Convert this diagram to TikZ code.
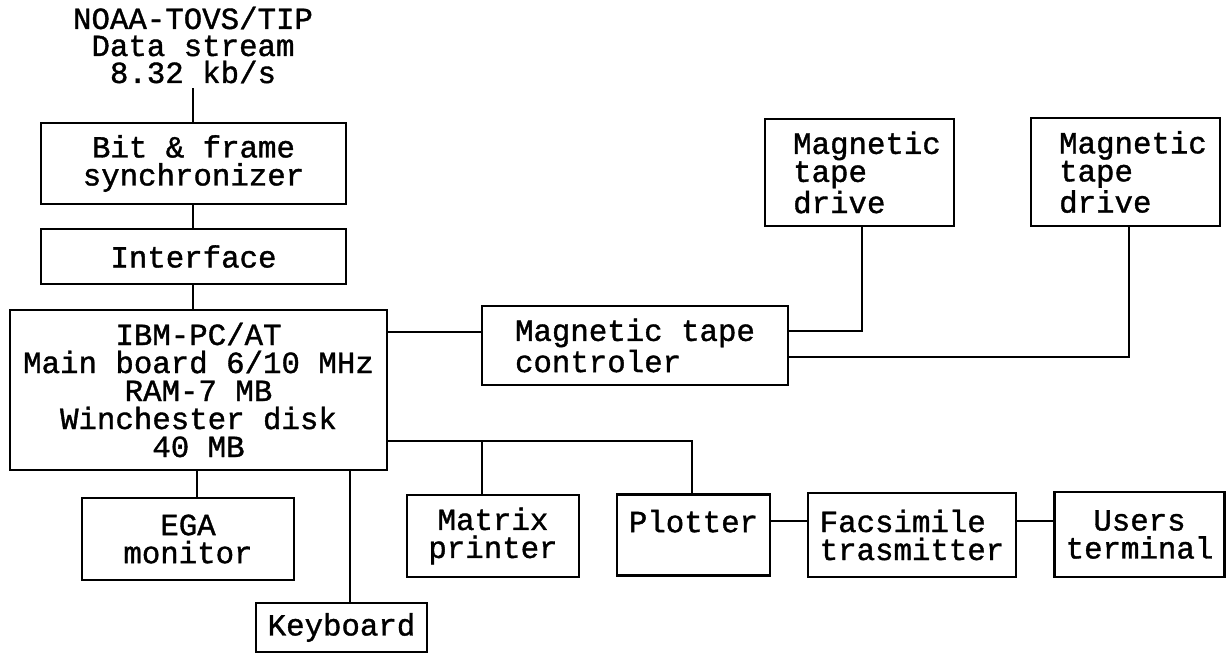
\documentclass[tikz,border=0pt]{standalone}
\usepackage{fontspec}
\setmainfont{Liberation Mono}
\newfontfamily\mfont{Liberation Mono}[FakeBold=1.2]
\newcommand\indentln{\hspace*{6pt}}
\begin{document}
\begin{tikzpicture}[x=0.4pt,y=-0.4pt,
  box/.style={draw, line width=1pt, inner sep=0pt, font=\mfont\fontsize{12.3}{11.2}\selectfont},
  wire/.style={line width=0.9pt},
  lab/.style={inner sep=0pt, align=center, font=\mfont\fontsize{12.3}{10.8}\selectfont}]
\useasboundingbox (0,0) rectangle (1227,655);
% source
\node[lab] (src) at (193,45) {NOAA-TOVS/TIP\\Data stream\\8.32 kb/s};
\coordinate (srcend) at (193,88);
% boxes
\node[box, minimum width=122pt, minimum height=32.4pt, align=center] (sync) at (193.5,163.5) {Bit \& frame\\synchronizer};
\node[box, minimum width=122pt, minimum height=22pt, align=center] (intf) at (193.5,256.5) {Interface};
\node[box, minimum width=150.8pt, minimum height=64pt, align=center] (ibm) at (198.5,390) {IBM-PC/AT\\Main board 6/10 MHz\\RAM-7 MB\\Winchester disk\\40 MB};
\node[box, minimum width=122.4pt, minimum height=31.6pt, align=left] (ctrl) at (635,345.5) {Magnetic tape\\controler};
\node[box, minimum width=75.6pt, minimum height=42.8pt, align=left] (drv1) at (859.5,172.5) {\indentln Magnetic\\\indentln tape\\\indentln drive};
\node[box, minimum width=75.6pt, minimum height=43.2pt, align=left] (drv2) at (1125.5,172) {\indentln Magnetic\\\indentln tape\\\indentln drive};
\node[box, minimum width=84.8pt, minimum height=32.8pt, align=center] (ega) at (188,539) {EGA\\monitor};
\node[box, minimum width=68.4pt, minimum height=19.6pt, align=center] (kbd) at (341.5,627.5) {Keyboard};
\node[box, minimum width=68.8pt, minimum height=32.8pt, align=center] (mat) at (493,536) {Matrix\\printer};
\node[box, minimum width=61.2pt, minimum height=32.4pt, align=center] (plot) at (693.5,535) {Plotter\\\mbox{}};
\node[box, minimum width=83.2pt, minimum height=33.6pt, align=left] (fax) at (912,535) {Facsimile\\trasmitter};
\node[box, minimum width=68pt, minimum height=34pt, align=center] (usr) at (1139.5,534.5) {Users\\terminal};
% connectors
\draw[wire] (srcend) -- (sync.north -| srcend);
\draw[wire] (sync.south -| 193,0) -- (intf.north -| 193,0);
\draw[wire] (intf.south -| 193,0) -- (ibm.north -| 193,0);
\draw[wire] (ibm.east |- 0,332) -- (ctrl.west |- 0,332);
\draw[wire] (ctrl.east |- 0,331) -| (drv1.south -| 862,0);
\draw[wire] (ctrl.east |- 0,357) -| (drv2.south -| 1129,0);
\draw[wire] (ibm.east |- 0,441) -| (plot.north -| 692,0);
\draw[wire] (mat.north -| 482,0) -- (482,441);
\draw[wire] (ibm.south -| 197,0) -- (ega.north -| 197,0);
\draw[wire] (ibm.south -| 350,0) -- (kbd.north -| 350,0);
\draw[wire] (plot.east |- 0,521) -- (fax.west |- 0,521);
\draw[wire] (fax.east |- 0,521) -- (usr.west |- 0,521);
\end{tikzpicture}
\end{document}
